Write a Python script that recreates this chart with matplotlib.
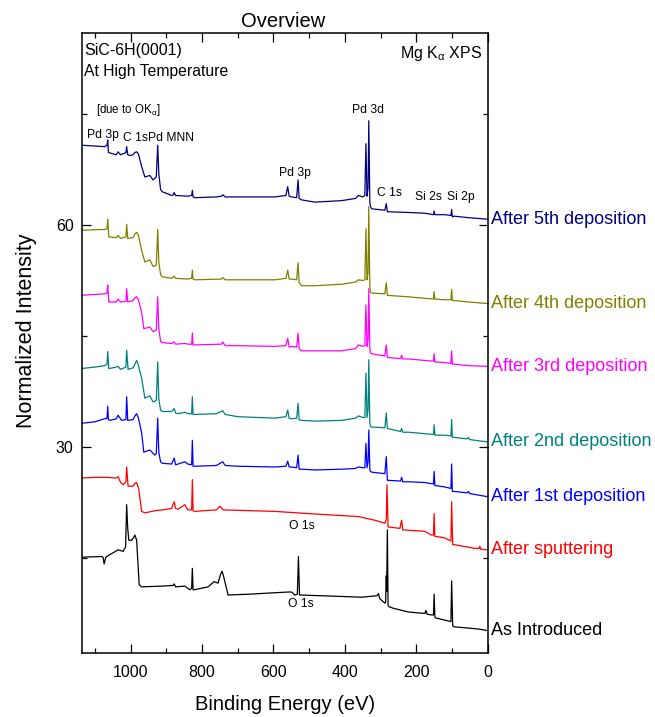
import numpy as np
import matplotlib
matplotlib.use('Agg')
import matplotlib.pyplot as plt
from matplotlib.ticker import MultipleLocator

plt.rcParams['font.family'] = ['Liberation Sans', 'DejaVu Sans']
plt.rcParams['mathtext.fontset'] = 'custom'
plt.rcParams['mathtext.rm'] = 'Liberation Sans'
plt.rcParams['mathtext.it'] = 'Liberation Sans'

# survey spectra (binding energy in eV, normalized intensity incl. stacking offset)
as_introduced = [(1140, 15.1), (1081, 15.2), (1077, 15.1), (1074, 14.2), (1070, 15.0), (1067, 15.2),
                 (1035, 16.1), (1021, 15.9), (1014, 16.5), (1011, 22.2), (1008, 19.0), (1005, 17.4),
                 (997, 17.4), (991, 17.8), (988, 18.1), (983, 17.4), (976, 11.4), (969, 11.1),
                 (911, 11.2), (880, 11.3), (878, 11.5), (874, 11.1), (848, 11.2), (834, 10.7),
                 (829, 10.9), (827, 13.6), (825, 10.7), (822, 10.7), (783, 11.1), (766, 11.8),
                 (755, 11.6), (748, 12.8), (744, 13.2), (740, 12.6), (727, 10.0), (671, 10.1),
                 (559, 10.4), (549, 10.4), (540, 10.0), (533, 10.1), (530, 15.2), (527, 10.0),
                 (409, 9.8), (353, 9.7), (310, 9.9), (306, 10.2), (302, 9.5), (288, 8.9),
                 (286, 9.0), (284, 12.6), (283, 10.5), (281, 18.8), (279, 8.6), (276, 8.4),
                 (264, 8.2), (222, 7.7), (176, 7.5), (173, 7.9), (170, 7.4), (157, 7.3),
                 (152, 7.3), (150, 10.1), (148, 7.0), (146, 6.9), (120, 6.6), (103, 6.4),
                 (101, 11.9), (98, 5.8), (94, 5.7), (26, 5.4), (2, 5.2)]

sputtered = [(1140, 25.8), (1100, 25.9), (1065, 25.9), (1040, 25.8), (1035, 26.0), (1028, 25.2),
             (1021, 24.9), (1013, 25.3), (1011, 27.3), (1007, 24.7), (993, 24.7), (988, 25.1),
             (983, 25.2), (977, 24.3), (969, 21.3), (960, 21.1), (930, 21.4), (911, 21.5),
             (885, 21.7), (878, 22.6), (874, 21.7), (867, 21.6), (848, 22.2), (840, 21.5),
             (829, 21.5), (827, 25.6), (825, 21.4), (820, 21.3), (760, 21.5), (750, 22.0),
             (741, 21.5), (596, 21.3), (503, 21.0), (362, 20.6), (316, 20.1), (288, 19.7),
             (284, 20.2), (282, 24.9), (279, 19.2), (246, 19.0), (241, 20.1), (238, 18.8),
             (176, 18.6), (157, 18.1), (152, 18.1), (150, 21.0), (148, 17.9), (143, 17.9),
             (120, 17.7), (103, 17.3), (101, 22.6), (98, 16.8), (94, 16.8), (36, 16.3),
             (24, 16.3), (22, 16.6), (20, 16.2), (2, 16.1)]

dep1 = [(1140, 33.2), (1100, 33.4), (1081, 33.7), (1066, 33.9), (1064, 35.5), (1062, 33.7),
        (1058, 33.6), (1040, 33.8), (1035, 34.3), (1028, 33.8), (1025, 33.6), (1013, 33.7),
        (1011, 36.8), (1008, 33.6), (993, 33.7), (988, 34.2), (983, 34.5), (978, 33.9),
        (969, 31.9), (963, 29.3), (946, 29.6), (932, 28.9), (928, 29.1), (924, 33.9),
        (921, 29.3), (916, 28.0), (911, 27.8), (885, 27.7), (878, 28.5), (874, 27.6),
        (867, 27.7), (848, 28.0), (840, 27.7), (829, 27.6), (827, 30.9), (825, 27.4),
        (820, 27.4), (760, 27.5), (742, 28.0), (735, 27.5), (700, 27.4), (596, 27.3),
        (565, 27.4), (560, 28.1), (556, 27.3), (549, 27.3), (535, 27.2), (531, 28.9),
        (528, 27.0), (521, 27.0), (484, 26.9), (409, 27.0), (370, 27.1), (362, 27.3),
        (350, 27.2), (344, 27.2), (341, 30.5), (338, 27.2), (335, 28.0), (333, 32.3),
        (330, 26.9), (328, 26.7), (325, 26.6), (288, 26.4), (284, 28.7), (281, 25.5),
        (244, 25.4), (241, 25.9), (238, 25.3), (222, 25.3), (176, 25.2), (152, 25.0),
        (150, 26.7), (148, 24.8), (120, 24.6), (103, 24.4), (101, 27.7), (99, 24.0),
        (94, 24.0), (58, 23.8), (54, 24.0), (50, 23.7), (2, 23.3)]

dep2 = [(1140, 40.6), (1100, 40.8), (1072, 41.0), (1066, 41.2), (1064, 42.9), (1061, 40.6),
        (1040, 40.8), (1035, 40.9), (1028, 40.5), (1013, 40.8), (1011, 43.1), (1007, 40.5),
        (993, 40.7), (988, 41.2), (983, 41.7), (978, 41.0), (969, 39.3), (960, 36.6),
        (946, 36.9), (937, 36.1), (928, 36.3), (924, 41.5), (921, 36.5), (916, 35.0),
        (911, 34.8), (885, 34.8), (878, 35.2), (874, 34.6), (867, 34.5), (848, 34.7),
        (840, 34.5), (829, 34.5), (827, 36.8), (825, 34.4), (820, 34.4), (760, 34.5),
        (742, 34.9), (735, 34.4), (700, 34.1), (596, 33.9), (565, 34.1), (560, 35.0),
        (556, 33.9), (549, 33.8), (535, 33.9), (531, 35.9), (528, 33.7), (521, 33.6),
        (484, 33.5), (409, 33.6), (370, 33.9), (362, 34.2), (350, 34.0), (344, 34.0),
        (341, 40.0), (338, 34.0), (335, 35.0), (333, 41.8), (330, 33.2), (328, 32.8),
        (325, 32.7), (288, 32.6), (284, 34.6), (281, 32.5), (244, 32.1), (241, 32.5),
        (238, 32.0), (222, 32.0), (176, 31.8), (152, 31.7), (150, 33.0), (148, 31.6),
        (120, 31.6), (103, 31.5), (101, 33.7), (99, 31.3), (94, 31.3), (58, 31.1),
        (54, 31.3), (50, 31.0), (2, 30.7)]

dep3 = [(1140, 50.5), (1072, 50.7), (1066, 50.8), (1064, 51.9), (1061, 49.6), (1040, 49.6),
        (1035, 50.0), (1028, 49.6), (1013, 49.7), (1011, 51.4), (1008, 49.6), (993, 49.8),
        (988, 50.2), (983, 50.3), (978, 49.9), (969, 48.2), (963, 46.0), (946, 46.2),
        (937, 45.6), (928, 45.8), (924, 50.3), (921, 46.0), (916, 44.3), (911, 44.1),
        (885, 44.0), (878, 44.2), (874, 43.9), (848, 44.0), (840, 43.9), (829, 43.9),
        (827, 45.4), (825, 43.8), (820, 43.8), (745, 43.9), (742, 44.2), (735, 43.7),
        (700, 43.7), (596, 43.6), (565, 43.7), (560, 44.7), (556, 43.5), (549, 43.6),
        (535, 43.5), (531, 45.4), (528, 43.3), (521, 43.0), (484, 43.0), (409, 43.0),
        (370, 43.3), (362, 43.8), (350, 43.6), (344, 43.7), (341, 49.2), (338, 43.6),
        (335, 44.5), (333, 51.4), (330, 43.2), (328, 42.7), (325, 42.6), (288, 42.3),
        (284, 43.8), (281, 42.1), (244, 41.95), (241, 42.4), (238, 41.9), (222, 41.9),
        (176, 41.7), (152, 41.6), (150, 42.6), (148, 41.5), (120, 41.4), (103, 41.3),
        (101, 43.0), (99, 41.2), (94, 41.2), (54, 41.0), (2, 40.9)]

dep4 = [(1140, 59.3), (1072, 59.4), (1066, 59.5), (1064, 60.8), (1061, 58.4), (1040, 58.3),
        (1035, 58.6), (1028, 58.2), (1013, 58.4), (1011, 60.1), (1008, 58.2), (993, 58.3),
        (988, 58.8), (983, 59.0), (978, 58.6), (969, 56.6), (960, 55.0), (946, 55.3),
        (937, 54.4), (928, 54.6), (924, 59.4), (921, 55.0), (916, 53.3), (911, 53.0),
        (885, 52.8), (878, 53.1), (874, 52.8), (840, 52.7), (829, 52.8), (827, 53.9),
        (825, 52.7), (820, 52.6), (745, 52.7), (742, 52.9), (735, 52.6), (700, 52.6),
        (596, 52.6), (565, 52.8), (560, 53.9), (556, 52.7), (549, 52.7), (535, 52.6),
        (531, 54.9), (528, 52.2), (521, 51.8), (484, 51.8), (409, 52.0), (370, 52.3),
        (362, 52.6), (350, 52.5), (344, 52.6), (341, 59.5), (338, 52.6), (335, 53.5),
        (333, 62.5), (330, 51.5), (328, 50.9), (325, 50.8), (288, 50.7), (284, 52.2),
        (281, 50.5), (222, 50.3), (176, 50.1), (152, 50.0), (150, 51.0), (148, 50.0),
        (120, 49.9), (103, 49.9), (101, 51.3), (99, 49.8), (94, 49.8), (54, 49.6), (2, 49.4)]

dep5 = [(1140, 70.8), (1072, 70.6), (1066, 70.8), (1064, 71.5), (1062, 69.8), (1040, 69.5),
        (1035, 69.9), (1028, 69.5), (1013, 69.8), (1011, 70.6), (1008, 69.5), (1000, 69.4),
        (993, 69.5), (988, 69.8), (983, 69.9), (978, 69.6), (969, 67.9), (960, 66.5),
        (946, 66.7), (937, 66.1), (928, 66.5), (924, 70.8), (921, 67.0), (916, 64.8),
        (911, 64.5), (885, 64.0), (880, 64.1), (878, 64.4), (874, 64.0), (840, 63.9),
        (829, 64.0), (827, 64.7), (825, 63.8), (820, 63.7), (760, 63.8), (745, 63.9),
        (742, 64.1), (735, 63.8), (700, 63.8), (596, 63.8), (565, 64.0), (560, 65.2),
        (556, 63.9), (549, 63.8), (535, 63.7), (531, 66.1), (528, 63.6), (521, 63.4),
        (484, 63.1), (409, 63.3), (370, 63.6), (362, 64.0), (350, 63.8), (344, 64.0),
        (341, 71.0), (338, 63.9), (335, 65.0), (333, 74.1), (330, 63.0), (328, 62.5),
        (325, 62.2), (288, 62.0), (284, 62.9), (281, 61.8), (222, 61.7), (176, 61.6),
        (152, 61.4), (150, 61.9), (148, 61.4), (120, 61.4), (103, 61.3), (101, 62.1),
        (99, 61.1), (94, 61.2), (54, 61.0), (2, 60.8)]

spectra = [as_introduced, sputtered, dep1, dep2, dep3, dep4, dep5]
names = ['As Introduced', 'After sputtering', 'After 1st deposition', 'After 2nd deposition',
         'After 3rd deposition', 'After 4th deposition', 'After 5th deposition']
colors = ['black', '#FF0000', '#0000FF', '#008080', '#FF00FF', '#808000', '#000080']

# peak labels: (text, binding energy, intensity, horizontal alignment, size)
peak_labels = [('[due to OK$_{\\alpha}$]', 1098, 75.5, 'left', 8.3),
               ('Pd 3p', 1123, 72.2, 'left', 8.7),
               ('C 1s', 1021, 71.8, 'left', 8.7),
               ('Pd MNN', 952, 71.8, 'left', 8.7),
               ('Pd 3d', 334, 75.5, 'center', 8.7),
               ('Pd 3p', 540, 67.0, 'center', 8.7),
               ('C 1s', 276, 64.3, 'center', 8.7),
               ('Si 2s', 166, 63.8, 'center', 8.7),
               ('Si 2p', 75, 63.8, 'center', 8.7),
               ('O 1s', 521, 19.3, 'center', 8.7),
               ('O 1s', 523, 8.8, 'center', 8.7)]

fig = plt.figure(figsize=(6.55, 7.17), dpi=100)
ax = fig.add_axes([0.1252, 0.0897, 0.6194, 0.8647])

ytr = ax.get_yaxis_transform()
for spec, name, c in zip(spectra, names, colors):
    e, y = np.array(spec).T
    ax.plot(e, y, color=c, lw=0.9)
    ax.text(1.008, y[-1], name, color=c, transform=ytr, fontsize=13,
            ha='left', va='center', clip_on=False)

for txt, e, y, ha, fs in peak_labels:
    ax.text(e, y, txt, ha=ha, va='center', fontsize=fs)

ax.text(0.006, 0.972, 'SiC-6H(0001)', transform=ax.transAxes, fontsize=11.5, va='center')
ax.text(0.006, 0.937, 'At High Temperature', transform=ax.transAxes, fontsize=11.3, va='center')
ax.text(0.986, 0.967, 'Mg K$_{\\alpha}$ XPS', transform=ax.transAxes, fontsize=11.5,
        ha='right', va='center')

ax.set_xlim(1136, 0)
ax.set_ylim(2.2, 86)
ax.xaxis.set_major_locator(MultipleLocator(200))
ax.xaxis.set_minor_locator(MultipleLocator(100))
ax.yaxis.set_major_locator(MultipleLocator(30))
ax.yaxis.set_minor_locator(MultipleLocator(15))
ax.tick_params(which='both', direction='in', top=True, right=True, width=0.9, labelsize=11.5)
ax.tick_params(which='major', length=6.5)
ax.tick_params(which='minor', length=3.6)
ax.tick_params(axis='x', pad=9)
ax.tick_params(axis='y', pad=6)
for s in ax.spines.values():
    s.set_linewidth(1.1)

ax.set_xlabel('Binding Energy (eV)', fontsize=14.5, va='center')
ax.xaxis.set_label_coords(0.5, -0.084)
ax.set_ylabel('Normalized Intensity', fontsize=15.5, va='center')
ax.yaxis.set_label_coords(-0.136, 0.52)
fig.text(283 / 655, 1 - 21.7 / 717, 'Overview', fontsize=14.5, ha='center', va='center')

fig.savefig('out.png', dpi=100)
